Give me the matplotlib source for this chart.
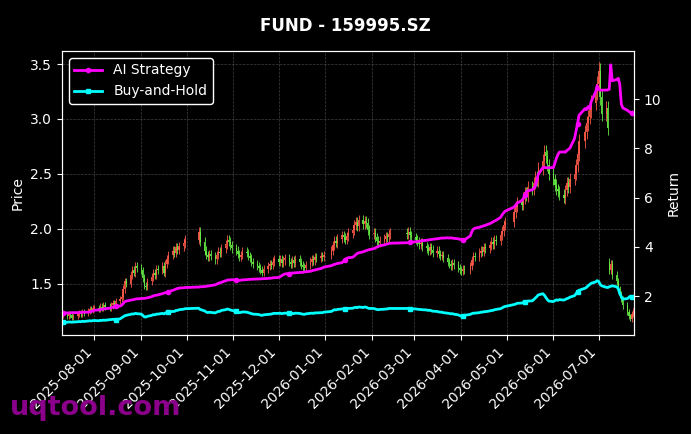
import numpy as np
import pandas as pd
import matplotlib
matplotlib.use('Agg')
import matplotlib.pyplot as plt
import matplotlib.dates as mdates

# trading calendar (weekdays minus exchange holidays)
start_date = '2025-07-11'
end_date = '2026-07-24'
holidays = ['2025-10-01', '2025-10-02', '2025-10-03', '2025-10-06', '2025-10-07', '2025-10-08',
            '2026-01-01', '2026-01-02',
            '2026-02-16', '2026-02-17', '2026-02-18', '2026-02-19', '2026-02-20', '2026-02-23',
            '2026-04-06', '2026-05-01', '2026-05-04', '2026-05-05', '2026-06-19']

# daily close, one line per month
close = [
    1.21, 1.20, 1.22, 1.21, 1.19, 1.20, 1.22, 1.23, 1.22, 1.24, 1.23, 1.25, 1.27, 1.26, 1.28,
    1.28, 1.27, 1.29, 1.28, 1.30, 1.29, 1.28, 1.30, 1.32, 1.31, 1.34, 1.36, 1.38, 1.45, 1.52, 1.50, 1.58, 1.62, 1.60, 1.66, 1.64,
    1.62, 1.55, 1.48, 1.47, 1.52, 1.56, 1.60, 1.58, 1.63, 1.62, 1.66, 1.60, 1.68, 1.72, 1.76, 1.80, 1.78, 1.83, 1.81, 1.84, 1.87, 1.90,
    1.97, 1.88, 1.80, 1.76, 1.74, 1.77, 1.75, 1.72, 1.76, 1.79, 1.78, 1.82, 1.86, 1.90, 1.88, 1.85, 1.82,
    1.80, 1.77, 1.74, 1.76, 1.79, 1.78, 1.75, 1.73, 1.70, 1.68, 1.66, 1.64, 1.62, 1.60, 1.63, 1.66, 1.68, 1.67, 1.70, 1.72,
    1.70, 1.72, 1.69, 1.71, 1.73, 1.70, 1.68, 1.71, 1.69, 1.72, 1.70, 1.67, 1.65, 1.64, 1.67, 1.70, 1.72, 1.71, 1.74, 1.73, 1.75, 1.74, 1.76,
    1.80, 1.85, 1.89, 1.87, 1.91, 1.94, 1.92, 1.90, 1.93, 1.96, 1.99, 2.03, 2.06, 2.02, 2.08, 2.04, 2.07, 2.05, 1.99, 1.95,
    1.96, 1.92, 1.89, 1.87, 1.89, 1.91, 1.93, 1.92, 1.95, 1.96, 1.95, 1.97, 1.94, 1.92,
    1.90, 1.88, 1.86, 1.87, 1.84, 1.82, 1.80, 1.83, 1.81, 1.78, 1.80, 1.77, 1.75, 1.76, 1.73, 1.70, 1.68, 1.66, 1.69, 1.67, 1.64, 1.62,
    1.61, 1.63, 1.62, 1.66, 1.71, 1.75, 1.74, 1.78, 1.80, 1.79, 1.83, 1.82, 1.85, 1.88, 1.86, 1.90, 1.89, 1.94, 1.98, 2.03, 2.06,
    2.15, 2.20, 2.24, 2.22, 2.28, 2.33, 2.30, 2.38, 2.36, 2.42, 2.47, 2.44, 2.55, 2.62, 2.70, 2.66, 2.58, 2.50,
    2.45, 2.40, 2.36, 2.34, 2.31, 2.28, 2.35, 2.42, 2.38, 2.45, 2.50, 2.58, 2.68, 2.80, 2.88, 2.96, 3.02, 3.08, 3.15, 3.25, 3.32,
    3.44, 3.20, 3.05, 3.10, 2.92, 1.62, 1.68, 1.58, 1.52, 1.45, 1.40, 1.36, 1.30, 1.24, 1.20, 1.18, 1.22, 1.25,
]
# open after the ex-rights gap
gap_open = {'2026-07-08': 1.70}

ai_return = [
    1.31, 1.32, 1.32, 1.32, 1.33, 1.33, 1.33, 1.34, 1.34, 1.34, 1.35, 1.35, 1.36, 1.38, 1.40,
    1.43, 1.44, 1.46, 1.47, 1.48, 1.49, 1.51, 1.53, 1.55, 1.56, 1.58, 1.60, 1.63, 1.70, 1.77, 1.80, 1.84, 1.85, 1.86, 1.88, 1.89,
    1.90, 1.91, 1.91, 1.92, 1.93, 1.98, 2.01, 2.03, 2.04, 2.05, 2.10, 2.12, 2.14, 2.16, 2.18, 2.24, 2.26, 2.29, 2.31, 2.33, 2.34, 2.35,
    2.37, 2.38, 2.39, 2.40, 2.41, 2.42, 2.43, 2.46, 2.49, 2.52, 2.54, 2.56, 2.63, 2.65, 2.66, 2.66, 2.67,
    2.66, 2.65, 2.64, 2.65, 2.66, 2.67, 2.68, 2.68, 2.69, 2.69, 2.70, 2.70, 2.70, 2.71, 2.71, 2.72, 2.73, 2.73, 2.74, 2.75,
    2.76, 2.79, 2.83, 2.87, 2.90, 2.92, 2.93, 2.94, 2.94, 2.95, 2.96, 2.96, 2.97, 2.98, 2.99, 3.01, 3.03, 3.05, 3.06, 3.08, 3.12, 3.15, 3.18,
    3.24, 3.27, 3.29, 3.31, 3.33, 3.36, 3.42, 3.48, 3.53, 3.56, 3.58, 3.62, 3.68, 3.73, 3.76, 3.80, 3.83, 3.85, 3.87, 3.89,
    3.93, 3.96, 3.99, 4.02, 4.05, 4.08, 4.10, 4.12, 4.14, 4.15, 4.17, 4.18, 4.19, 4.20,
    4.21, 4.22, 4.23, 4.24, 4.25, 4.27, 4.28, 4.29, 4.30, 4.31, 4.33, 4.34, 4.35, 4.36, 4.36, 4.37, 4.36, 4.37, 4.36, 4.35, 4.33, 4.31,
    4.30, 4.29, 4.28, 4.45, 4.62, 4.72, 4.76, 4.80, 4.82, 4.84, 4.86, 4.88, 4.95, 4.98, 5.02, 5.05, 5.08, 5.20, 5.30, 5.38, 5.45,
    5.62, 5.70, 5.78, 5.88, 5.95, 6.10, 6.22, 6.28, 6.32, 6.38, 6.45, 6.70, 6.95, 7.22, 7.23, 7.22, 7.21, 7.22,
    7.22, 7.40, 7.60, 7.75, 7.85, 7.86, 7.85, 7.92, 7.96, 8.02, 8.40, 8.70, 9.00, 9.35, 9.62, 9.58, 9.70, 9.62, 9.90, 10.30, 10.55,
    10.40, 10.37, 10.37, 10.37, 10.38, 10.40, 11.40, 10.75, 10.80, 10.85, 10.60, 9.80, 9.65, 9.55, 9.50, 9.47, 9.45, 9.44,
]

bh_return = [
    0.93, 0.94, 0.95, 0.95, 0.94, 0.95, 0.96, 0.97, 0.96, 0.98, 0.97, 0.99, 1.00, 0.99, 1.01,
    1.01, 1.00, 1.02, 1.01, 1.03, 1.02, 1.04, 1.05, 1.06, 1.05, 1.04, 1.08, 1.12, 1.16, 1.20, 1.22, 1.26, 1.28, 1.27, 1.30, 1.29,
    1.27, 1.22, 1.16, 1.15, 1.18, 1.22, 1.25, 1.24, 1.27, 1.27, 1.30, 1.28, 1.32, 1.34, 1.36, 1.38, 1.38, 1.42, 1.42, 1.45, 1.47, 1.49,
    1.51, 1.46, 1.40, 1.36, 1.33, 1.35, 1.34, 1.32, 1.35, 1.38, 1.38, 1.42, 1.45, 1.48, 1.46, 1.44, 1.42,
    1.38, 1.36, 1.33, 1.34, 1.36, 1.35, 1.33, 1.31, 1.29, 1.27, 1.26, 1.25, 1.23, 1.22, 1.24, 1.26, 1.27, 1.27, 1.29, 1.30,
    1.30, 1.31, 1.29, 1.30, 1.31, 1.30, 1.28, 1.30, 1.29, 1.31, 1.30, 1.28, 1.27, 1.26, 1.28, 1.30, 1.31, 1.30, 1.32, 1.32, 1.33, 1.33, 1.35,
    1.38, 1.42, 1.45, 1.44, 1.46, 1.48, 1.47, 1.46, 1.48, 1.50, 1.51, 1.53, 1.55, 1.53, 1.56, 1.54, 1.56, 1.55, 1.52, 1.50,
    1.50, 1.48, 1.46, 1.45, 1.46, 1.47, 1.48, 1.48, 1.50, 1.50, 1.50, 1.51, 1.49, 1.48,
    1.48, 1.47, 1.46, 1.46, 1.45, 1.44, 1.42, 1.43, 1.41, 1.39, 1.38, 1.36, 1.35, 1.35, 1.33, 1.31, 1.30, 1.28, 1.29, 1.27, 1.24, 1.21,
    1.19, 1.21, 1.22, 1.26, 1.29, 1.31, 1.31, 1.33, 1.35, 1.35, 1.37, 1.37, 1.40, 1.42, 1.42, 1.45, 1.46, 1.49, 1.52, 1.56, 1.58,
    1.66, 1.68, 1.71, 1.72, 1.74, 1.77, 1.76, 1.80, 1.81, 1.86, 1.92, 1.98, 2.05, 2.10, 2.04, 1.95, 1.86, 1.80,
    1.78, 1.82, 1.85, 1.83, 1.86, 1.84, 1.87, 1.90, 1.92, 1.96, 2.02, 2.10, 2.18, 2.24, 2.32, 2.36, 2.42, 2.47, 2.52, 2.58, 2.63,
    2.60, 2.48, 2.42, 2.36, 2.35, 2.38, 2.40, 2.42, 2.38, 2.30, 2.10, 1.98, 1.88, 1.90, 1.95, 2.00, 1.98, 1.96,
]


def plot_fund_chart(out_file='out.png'):
    dates = pd.bdate_range(start_date, end_date)
    dates = dates[~dates.isin(pd.to_datetime(holidays))]
    c = np.array(close)
    o = np.r_[c[0], c[:-1]]
    for d, v in gap_open.items():
        o[dates == pd.Timestamp(d)] = v
    wick = 0.022 * c
    hi = np.maximum(o, c) + wick
    lo = np.minimum(o, c) - wick
    up = c >= o
    cols = np.where(up, '#ff5a48', '#66ee44')

    plt.style.use('dark_background')
    fig = plt.figure(figsize=(6.91, 4.34), dpi=100)
    ax = fig.add_axes([0.0897, 0.228, 0.828, 0.6545])
    ax2 = ax.twinx()

    ax.vlines(dates, lo, hi, colors=cols, linewidth=0.7, alpha=0.85)
    ax.bar(dates, np.maximum(np.abs(c - o), 0.01), bottom=np.minimum(o, c),
           width=0.9, color=cols, alpha=0.9)

    ax2.plot(dates, ai_return, color='#ff00ff', linewidth=2, marker='o', markersize=3,
             markevery=25, label='AI Strategy')
    ax2.plot(dates, bh_return, color='#00ffff', linewidth=2, marker='s', markersize=3,
             markevery=25, label='Buy-and-Hold')

    ax.set_xlim(dates[0] - pd.Timedelta(hours=12), dates[-1] + pd.Timedelta(hours=12))
    ax.set_ylim(1.03, 3.62)
    ax2.set_ylim(0.42, 11.96)
    ax.set_yticks([1.5, 2.0, 2.5, 3.0, 3.5])
    ax2.set_yticks([2, 4, 6, 8, 10])

    ax.xaxis.set_major_locator(mdates.MonthLocator())
    ax.xaxis.set_major_formatter(mdates.DateFormatter('%Y-%m-%d'))
    plt.setp(ax.get_xticklabels(), rotation=45, ha='right')

    ax.grid(True, linestyle='--', linewidth=0.5, color='gray', alpha=0.5)
    ax.set_ylabel('Price')
    ax2.set_ylabel('Return')
    ax2.legend(loc='upper left', facecolor='black', edgecolor='white', framealpha=1)

    fig.suptitle('FUND - 159995.SZ', fontsize=12, fontweight='bold', y=0.96)
    fig.text(0.014, 0.06, 'uqtool.com', color='#8b008b', fontsize=19.5,
             fontweight='bold', va='center')

    fig.savefig(out_file, dpi=100, facecolor='black')


plot_fund_chart()
